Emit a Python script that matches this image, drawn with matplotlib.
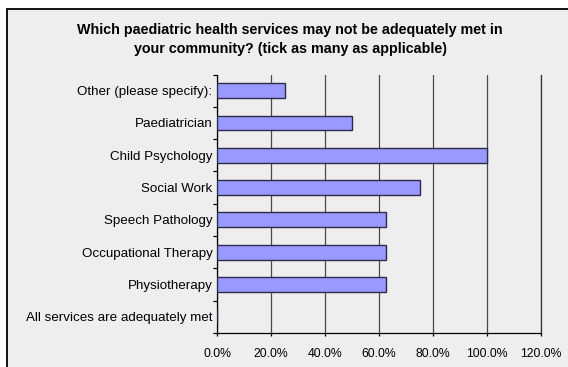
import numpy as np
import matplotlib.pyplot as plt
from matplotlib.patches import Rectangle
from matplotlib.ticker import FixedLocator, PercentFormatter

plt.rcParams['font.family'] = ['Liberation Sans', 'DejaVu Sans']

categories = ['Other (please specify):', 'Paediatrician', 'Child Psychology',
              'Social Work', 'Speech Pathology', 'Occupational Therapy',
              'Physiotherapy', 'All services are adequately met']
values = [25.0, 50.0, 100.0, 75.0, 62.5, 62.5, 62.5, 0.0]
xticks = [0, 20, 40, 60, 80, 100, 120]

W, H = 568, 367
fig = plt.figure(figsize=(W / 100, H / 100), dpi=100)
fig.patch.set_facecolor('white')

# chart frame (runs off the right and bottom edges)
fig.patches.append(Rectangle((7 / W, -0.02), 0.99, 1 - 9.5 / H + 0.02,
                             transform=fig.transFigure, facecolor='#eeeeee',
                             edgecolor='black', linewidth=1.3, zorder=-5))

ax = fig.add_axes([217 / W, 1 - 333 / H, 324 / W, 258.5 / H])
ax.set_facecolor('#eeeeee')

y = np.arange(len(categories))
ax.barh(y, values, height=0.46, color='#9999ff', edgecolor='#2a2a4a',
        linewidth=1.0, zorder=3)

ax.set_ylim(len(categories) - 0.5, -0.5)
ax.set_xlim(0, 120)
ax.set_yticks(y)
ax.set_yticklabels(categories, fontsize=9.6)
ax.tick_params(axis='y', which='major', length=0, pad=3.3)
ax.yaxis.set_minor_locator(FixedLocator(np.arange(-0.5, len(categories), 1)))
ax.tick_params(axis='y', which='minor', length=3, width=0.9)

ax.set_xticks(xticks)
ax.xaxis.set_major_formatter(PercentFormatter(decimals=1))
ax.tick_params(axis='x', labelsize=8.8, length=2.5, width=0.9, pad=8.5)
ax.grid(axis='x', color='#4a4a4a', linewidth=0.9, zorder=1)

ax.spines['top'].set_visible(False)
for s in ['left', 'bottom', 'right']:
    ax.spines[s].set_linewidth(0.9)
ax.spines['right'].set_color('#333333')

fig.text(290 / W, 1 - 30 / H, 'Which paediatric health services may not be adequately met in',
         ha='center', va='center', fontsize=10.3, fontweight='bold')
fig.text(290 / W, 1 - 48.5 / H, 'your community? (tick as many as applicable)',
         ha='center', va='center', fontsize=10.3, fontweight='bold')

fig.savefig('out.png', dpi=100)
